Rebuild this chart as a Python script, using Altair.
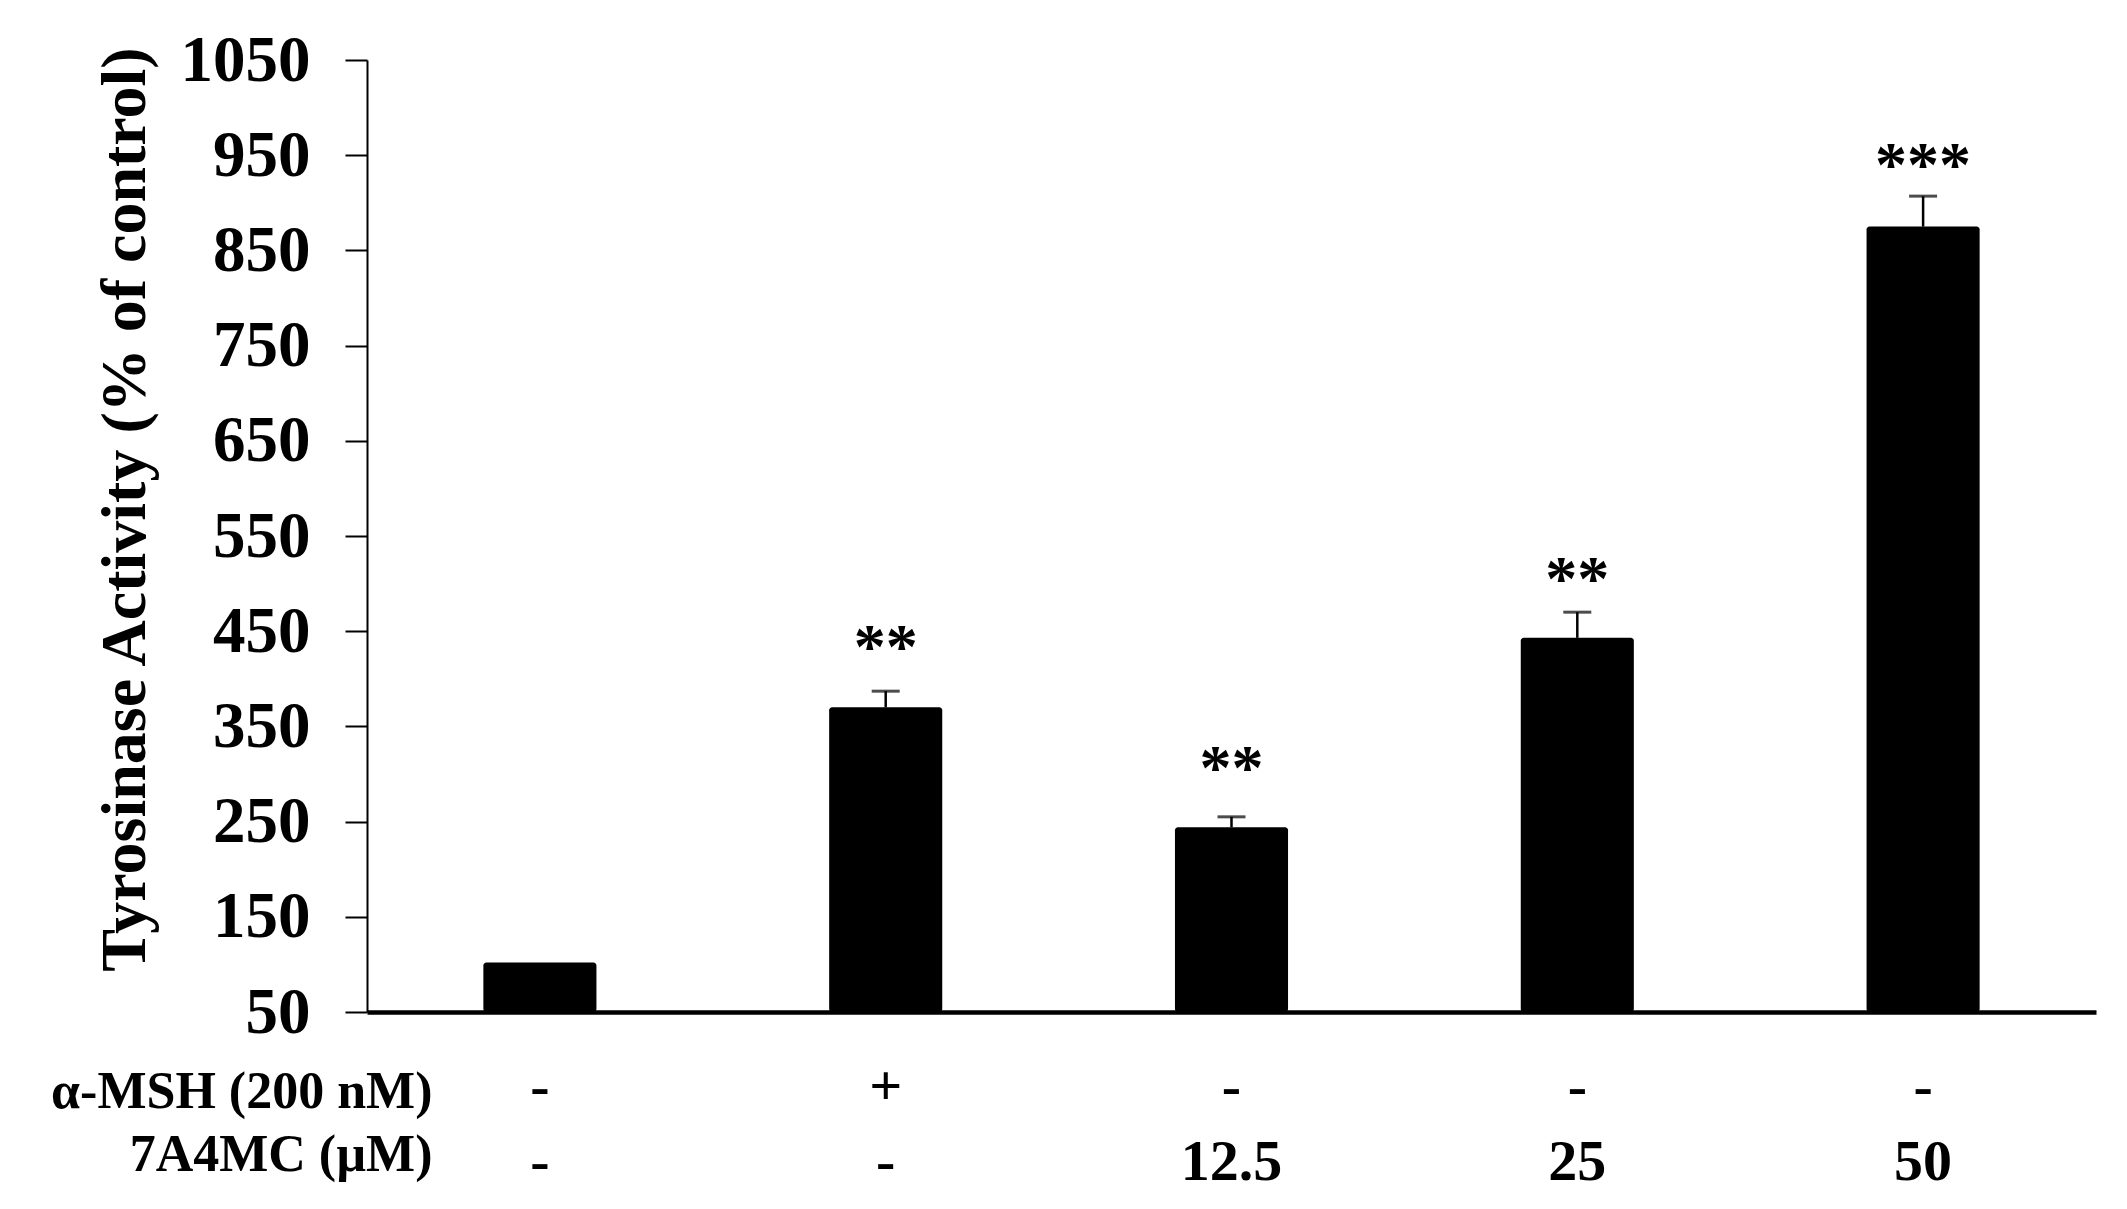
import altair as alt
import pandas as pd

# ---- data ----
msh = ["-", "+", "-", "-", "-"]
conc = ["-", "-", "12.5", "25", "50"]
means = [102, 370, 244, 443, 875]
errors = [0, 17, 11, 27, 32]
stars = ["", "**", "**", "**", "***"]
star_pos = [None, 445, 318, 516, 951]
y_ticks = [50, 150, 250, 350, 450, 550, 650, 750, 850, 950, 1050]
row_titles = ["α-MSH (200 nM)", "7A4MC (µM)"]
y_title = "Tyrosinase Activity (% of control)"

cats = [f"{a}|{b}" for a, b in zip(msh, conc)]
df = pd.DataFrame({
    "group": cats,
    "mean": means,
    "err": errors,
    "stars": stars,
    "star_y": star_pos,
})
df["upper"] = df["mean"] + df["err"]
df["base"] = 50

FONT = "Liberation Serif"

xscale = alt.Scale(paddingInner=0.673, paddingOuter=0.3365)
yscale = alt.Scale(domain=[50, 1050], nice=False, zero=False)

x_axis = alt.Axis(
    title=row_titles,
    titleFont=FONT, titleFontSize=52, titleFontWeight="bold",
    titleX=65, titleY=95, titleAlign="right", titleBaseline="alphabetic",
    titleAngle=0, titleLineHeight=63, titleColor="black",
    labelExpr="split(datum.label, '|')",
    labelFont=FONT, labelFontSize=58, labelFontWeight="bold",
    labelBaseline="alphabetic", labelPadding=92, labelLineHeight=75,
    labelAngle=0, labelColor="black", labelOverlap=False,
    ticks=False, tickSize=0, domainWidth=4.5, domainColor="black",
    grid=False,
)

y_axis = alt.Axis(
    values=y_ticks, title=y_title, format="d",
    titleFont=FONT, titleFontSize=64, titleFontWeight="bold",
    titleX=-223, titleY=449, titleAngle=270, titleAlign="center",
    titleBaseline="alphabetic", titleColor="black",
    labelFont=FONT, labelFontSize=65, labelFontWeight="bold",
    labelPadding=35, labelColor="black", labelOverlap=False,
    tickSize=22, tickWidth=2, tickColor="black",
    domainWidth=2, domainColor="black", grid=False,
)

X = alt.X("group:N", sort=cats, scale=xscale, axis=x_axis, title=row_titles)


def Y(field):
    return alt.Y(field, scale=yscale, axis=y_axis, title=y_title)


base = alt.Chart(df)

bars = base.mark_bar(color="black", cornerRadius=3).encode(
    x=X,
    y=Y("mean:Q"),
    y2=alt.Y2("base:Q"),
)

rules = base.transform_filter("datum.err > 0").mark_rule(
    color="black", strokeWidth=2.5
).encode(
    x=X,
    y=Y("mean:Q"),
    y2=alt.Y2("upper:Q"),
)

caps = base.transform_filter("datum.err > 0").mark_tick(
    color="black", thickness=3, size=28
).encode(
    x=X,
    y=Y("upper:Q"),
)

labels = base.transform_filter("datum.stars != ''").mark_text(
    font=FONT, fontSize=64, fontWeight="bold", baseline="alphabetic",
    dy=32, color="black",
).encode(
    x=X,
    y=Y("star_y:Q"),
    text="stars:N",
)

chart = alt.layer(bars, rules, caps, labels).properties(
    width=1729,
    height=952,
    autosize=alt.AutoSizeParams(type="none"),
    padding={"left": 359, "top": 52, "right": 23, "bottom": 190},
    background="white",
).configure_view(stroke=None)

chart.save("out.html", embed_options={"renderer": "svg", "actions": False})
